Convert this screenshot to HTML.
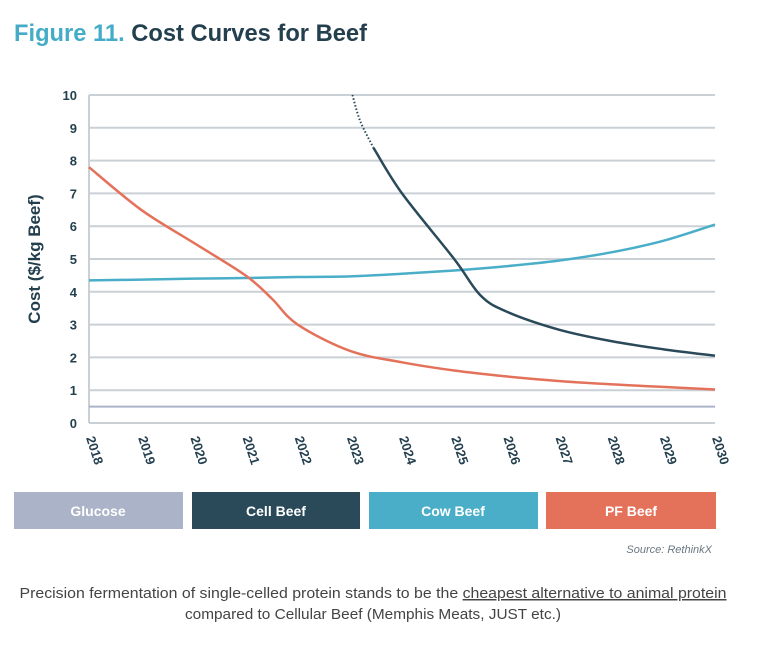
<!DOCTYPE html>
<html><head><meta charset="utf-8">
<style>
html,body{margin:0;padding:0;background:#fff;}
svg{display:block;}
text{font-family:"Liberation Sans",sans-serif;}
</style></head>
<body>
<svg id="chart" width="769" height="652" viewBox="0 0 769 652" xmlns="http://www.w3.org/2000/svg">
  <text x="14" y="41" font-size="24" font-weight="bold" textLength="353" lengthAdjust="spacingAndGlyphs"><tspan fill="#45acc8">Figure 11.</tspan><tspan fill="#24404f"> Cost Curves for Beef</tspan></text>
  <g id="grid"></g>
  <g id="yticks"></g>
  <g id="xticks"></g>
  <text transform="translate(40,259) rotate(-90)" text-anchor="middle" font-size="17" font-weight="bold" fill="#24404f">Cost ($/kg Beef)</text>
  <g id="series"></g>

  <g>
    <rect x="14" y="492" width="169" height="37" fill="#abb3c8"/>
    <text x="98" y="516" text-anchor="middle" font-size="14" font-weight="bold" fill="#fff">Glucose</text>
    <rect x="192" y="492" width="168" height="37" fill="#2a4a5a"/>
    <text x="276" y="516" text-anchor="middle" font-size="14" font-weight="bold" fill="#fff">Cell Beef</text>
    <rect x="369" y="492" width="169" height="37" fill="#4aaec8"/>
    <text x="453" y="516" text-anchor="middle" font-size="14" font-weight="bold" fill="#fff">Cow Beef</text>
    <rect x="546" y="492" width="170" height="37" fill="#e4725b"/>
    <text x="631" y="516" text-anchor="middle" font-size="14" font-weight="bold" fill="#fff">PF Beef</text>
  </g>
  <text x="712" y="553" text-anchor="end" font-size="11" font-style="italic" fill="#6b7780">Source: RethinkX</text>
  <text x="373" y="598" text-anchor="middle" font-size="15" fill="#444" textLength="707" lengthAdjust="spacingAndGlyphs" style="font-family:'Liberation Sans Narrow','Liberation Sans',sans-serif">Precision fermentation of single-celled protein stands to be the <tspan text-decoration="underline">cheapest alternative to animal protein</tspan></text>
  <text x="373" y="619" text-anchor="middle" font-size="15" fill="#444" textLength="376" lengthAdjust="spacingAndGlyphs" style="font-family:'Liberation Sans Narrow','Liberation Sans',sans-serif">compared to Cellular Beef (Memphis Meats, JUST etc.)</text>
</svg>
<script>
const years = [2018,2019,2020,2021,2022,2023,2024,2025,2026,2027,2028,2029,2030];
const yTicks = [0,1,2,3,4,5,6,7,8,9,10];
const cowX = [2018,2019,2020,2021,2022,2023,2024,2025,2026,2027,2028,2029,2030];
const cowY = [4.35,4.37,4.4,4.42,4.45,4.47,4.55,4.65,4.78,4.95,5.2,5.55,6.05];
const pfX = [2018,2019,2020,2021,2021.5,2022,2023,2024,2025,2026,2027,2028,2029,2030];
const pfY = [7.8,6.5,5.5,4.5,3.8,3.0,2.2,1.85,1.6,1.42,1.28,1.18,1.1,1.02];
const cellDotX = [2023.05,2023.2,2023.45];
const cellDotY = [10,9.2,8.4];
const cellX = [2023.45,2024,2025,2025.5,2026,2027,2028,2029,2030];
const cellY = [8.4,7.0,5.0,3.9,3.4,2.85,2.5,2.25,2.05];
const glucoseX = [2018,2030];
const glucoseY = [0.5,0.5];

const NS = "http://www.w3.org/2000/svg";
const X0=89, X1=715, Y0=423, Y1=95;
const xs = v => X0 + (v-2018)/(2030-2018)*(X1-X0);
const ys = v => Y0 - v/10*(Y0-Y1);
function mk(tag, attrs, parent){const e=document.createElementNS(NS,tag);for(const k in attrs)e.setAttribute(k,attrs[k]);parent.appendChild(e);return e;}

const grid=document.getElementById('grid');
yTicks.forEach(t=>{
  const l=mk('line',{x1:X0,x2:X1,y1:ys(t),y2:ys(t),stroke:'#c9d0d6','stroke-width':2},grid);
  
  
  const tx=mk('text',{x:77,y:ys(t)+5,'text-anchor':'end','font-size':13,'font-weight':'bold',fill:'#24404f'},document.getElementById('yticks'));
  tx.textContent=t;
  
  
});
const ax=mk('line',{x1:X0,x2:X0,y1:Y1,y2:Y0,stroke:'#c9d0d6','stroke-width':2},grid);


years.forEach(y=>{
  const tx=mk('text',{transform:`translate(${xs(y)-3},${438}) rotate(72)`,'font-size':13,'font-weight':'bold',fill:'#24404f'},document.getElementById('xticks'));
  tx.textContent=y;
  
  
});

function smoothPath(X,Y){
  const p=X.map((x,i)=>[xs(x),ys(Y[i])]);
  let d=`M${p[0][0]},${p[0][1]}`;
  for(let i=0;i<p.length-1;i++){
    const p0=p[i-1]||p[i],p1=p[i],p2=p[i+1],p3=p[i+2]||p2;
    const c1=[p1[0]+(p2[0]-p0[0])/6,p1[1]+(p2[1]-p0[1])/6];
    const c2=[p2[0]-(p3[0]-p1[0])/6,p2[1]-(p3[1]-p1[1])/6];
    d+=` C${c1[0]},${c1[1]} ${c2[0]},${c2[1]} ${p2[0]},${p2[1]}`;
  }
  return d;
}
const S=document.getElementById('series');
const g=mk('path',{d:smoothPath(glucoseX,glucoseY),fill:'none',stroke:'#abb3c8','stroke-width':2},S);


const c=mk('path',{d:smoothPath(cowX,cowY),fill:'none',stroke:'#4aaec8','stroke-width':2.5},S);


const pf=mk('path',{d:smoothPath(pfX,pfY),fill:'none',stroke:'#e4725b','stroke-width':2.5},S);


const cd=mk('path',{d:smoothPath(cellDotX,cellDotY),fill:'none',stroke:'#2a4a5a','stroke-width':2,'stroke-dasharray':'1.5 2'},S);


const cl=mk('path',{d:smoothPath(cellX,cellY),fill:'none',stroke:'#2a4a5a','stroke-width':2.5},S);


</script>
</body></html>
